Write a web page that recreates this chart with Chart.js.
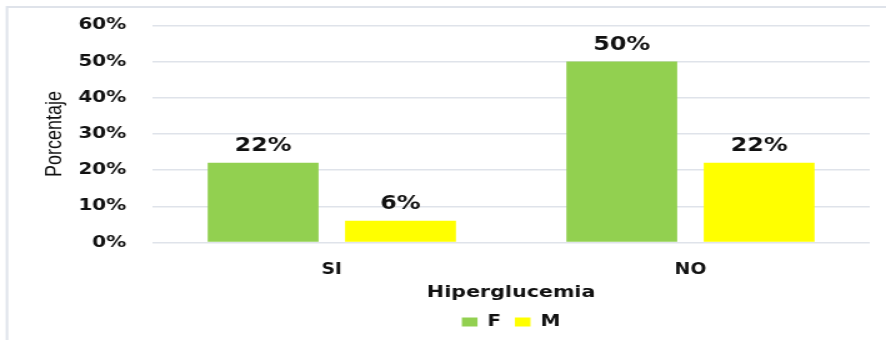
<!DOCTYPE html>
<html>
<head>
<meta charset="utf-8">
<script src="https://cdn.jsdelivr.net/npm/chart.js@4/dist/chart.umd.min.js"></script>
<style>
  html, body { margin: 0; padding: 0; background: #ffffff; overflow: hidden; }
  #wrap { width: 709px; height: 340px; transform-origin: 0 0; transform: scaleX(1.2497); }
  canvas { display: block; }
</style>
</head>
<body>
<div id="wrap"><canvas id="chart" width="709" height="340"></canvas></div>
<script>
// Hiperglucemia por sexo (porcentaje)
const categories = ['SI', 'NO'];
const femenino = [22, 50];
const masculino = [6, 22];
const yTicks = [0, 10, 20, 30, 40, 50, 60];

const FONT = "'DejaVu Sans', Verdana, sans-serif";

// light frame along the top and left edges
const framePlugin = {
  id: 'frame',
  beforeDraw(chart) {
    const ctx = chart.ctx;
    ctx.save();
    ctx.fillStyle = '#ffffff';
    ctx.fillRect(0, 0, chart.width, chart.height);
    ctx.strokeStyle = '#dfe3ea';
    ctx.lineWidth = 2;
    ctx.beginPath();
    ctx.moveTo(5.6, chart.height);
    ctx.lineTo(5.6, 7);
    ctx.lineTo(chart.width, 7);
    ctx.stroke();
    ctx.restore();
  }
};

// centre the legend under the plot area rather than the whole canvas
const legendUnderPlot = {
  id: 'legendUnderPlot',
  afterLayout(chart) {
    const lg = chart.legend;
    if (lg) {
      lg.left = chart.chartArea.left;
      lg.right = chart.chartArea.right;
    }
  }
};

// percentage labels above each bar
const valueLabels = {
  id: 'valueLabels',
  afterDatasetsDraw(chart) {
    const ctx = chart.ctx;
    ctx.save();
    ctx.font = 'bold 19px ' + FONT;
    ctx.fillStyle = '#111111';
    ctx.textAlign = 'center';
    ctx.textBaseline = 'alphabetic';
    chart.data.datasets.forEach((ds, i) => {
      chart.getDatasetMeta(i).data.forEach((bar, j) => {
        ctx.fillText(ds.data[j] + '%', bar.x, bar.y - 12);
      });
    });
    ctx.restore();
  }
};

new Chart(document.getElementById('chart'), {
  type: 'bar',
  data: {
    labels: categories,
    datasets: [
      { label: 'F', data: femenino, backgroundColor: '#92d050', borderWidth: 0,
        categoryPercentage: 0.766, barPercentage: 0.807 },
      { label: 'M', data: masculino, backgroundColor: '#ffff00', borderWidth: 0,
        categoryPercentage: 0.766, barPercentage: 0.807 }
    ]
  },
  options: {
    responsive: false,
    animation: false,
    devicePixelRatio: 1,
    layout: { padding: { top: 25.3, right: 13, left: 0, bottom: 0 } },
    plugins: {
      legend: {
        position: 'bottom',
        labels: {
          font: { family: FONT, size: 16, weight: 'bold' },
          color: '#111111',
          boxWidth: 12.5,
          boxHeight: 9,
          padding: 11
        }
      },
      tooltip: { enabled: false }
    },
    scales: {
      y: {
        min: 0,
        max: 60,
        afterBuildTicks(scale) { scale.ticks = yTicks.map(v => ({ value: v })); },
        afterFit(scale) {
          scale.width = 122;
          scale.paddingTop = 0;
          scale.paddingBottom = 0;
        },
        border: { display: false },
        grid: { color: '#dfe3ea', lineWidth: 1.5, drawTicks: false },
        ticks: {
          padding: 21,
          font: { family: FONT, size: 16, weight: 'bold' },
          color: '#111111',
          callback: v => v + '%'
        },
        title: {
          display: true,
          text: 'Porcentaje',
          font: { family: "'Liberation Sans', Arial, sans-serif", size: 18 },
          color: '#111111',
          padding: { top: 33, bottom: 0 }
        }
      },
      x: {
        afterFit(scale) { scale.height = 60.5; },
        border: { display: false },
        grid: { display: false, drawTicks: false },
        ticks: {
          padding: 19,
          font: { family: FONT, size: 15, weight: 'bold' },
          color: '#111111'
        },
        title: {
          display: true,
          text: 'Hiperglucemia',
          font: { family: FONT, size: 16.5, weight: 'bold' },
          color: '#111111',
          padding: { top: 4, bottom: 0 }
        }
      }
    }
  },
  plugins: [framePlugin, legendUnderPlot, valueLabels]
});
</script>
</body>
</html>
